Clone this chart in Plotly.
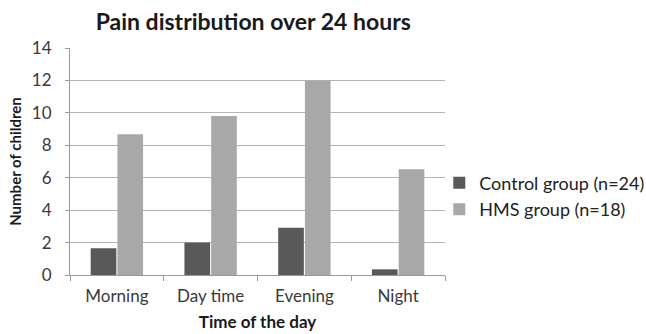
import plotly.graph_objects as go

# Pain episodes by time of the day
times = ["Morning", "Day time", "Evening", "Night"]
control = [1.65, 2.0, 2.92, 0.35]
hms = [8.68, 9.8, 12.0, 6.52]

font = "Lato, 'Open Sans', sans-serif"

fig = go.Figure()
fig.add_trace(go.Bar(x=times, y=control, name="Control group (n=24)",
                     marker=dict(color="#595959", line=dict(width=0))))
fig.add_trace(go.Bar(x=times, y=hms, name="HMS group (n=18)",
                     marker=dict(color="#a8a8a8", line=dict(width=0))))

fig.update_layout(
    width=646, height=334,
    margin=dict(l=70, r=201, t=48, b=59, autoexpand=False),
    paper_bgcolor="white", plot_bgcolor="white",
    barmode="group", bargap=0.43, bargroupgap=0.04,
    font=dict(family=font, color="#333333", size=16),
    title=dict(text="<b>Pain distribution over 24 hours</b>",
               x=0.392, xanchor="center", y=0.934, yanchor="middle",
               font=dict(size=23, color="#1a1a1a")),
    legend=dict(xref="container", yref="container",
                x=0.68, xanchor="left", y=0.413, yanchor="middle",
                font=dict(size=18, color="#222222"),
                itemwidth=30, tracegroupgap=4, bgcolor="rgba(0,0,0,0)"),
    xaxis=dict(
        title=dict(text="<b>Time of the day</b>", font=dict(size=17, color="#1a1a1a"),
                   standoff=10),
        automargin=False,
        showline=True, linecolor="#9a9a9a", linewidth=1,
        ticks="outside", tickson="boundaries", ticklen=5, tickcolor="#9a9a9a",
        ticklabelstandoff=6,
        showgrid=False, tickfont=dict(size=17, color="#3a3a3a"),
    ),
    yaxis=dict(
        title=dict(text="<b>Number of children</b>", font=dict(size=15, color="#1a1a1a"),
                   standoff=6),
        automargin=False,
        range=[0, 14], dtick=2,
        showline=True, linecolor="#9a9a9a", linewidth=1,
        ticks="outside", ticklen=4, tickcolor="#9a9a9a",
        ticklabelstandoff=10,
        showgrid=True, gridcolor="#b4b4b4", gridwidth=1,
        zeroline=False, tickfont=dict(size=17, color="#3a3a3a"),
    ),
)

fig.write_html("out.html")
